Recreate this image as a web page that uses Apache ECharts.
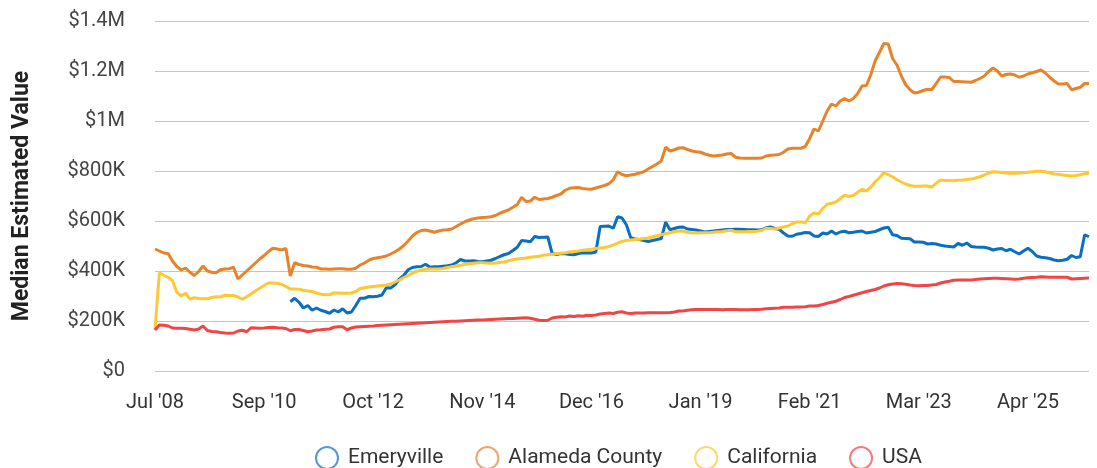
<!DOCTYPE html>
<html>
<head>
<meta charset="utf-8">
<script src="https://cdn.jsdelivr.net/npm/echarts@6/dist/echarts.min.js"></script>
<style>
html,body{margin:0;padding:0;background:#fff;}
#chart{width:1097px;height:468px;}
</style>
</head>
<body>
<div id="chart"></div>
<script>
// Month categories: Jul 2008, then monthly from Sep 2008
const firstMonth = "Jul '08";
const monthNames = ['Jan','Feb','Mar','Apr','May','Jun','Jul','Aug','Sep','Oct','Nov','Dec'];
const pointCount = 215;
const categories = [firstMonth];
for (let i = 1; i < pointCount; i++) {
  const m = 8 + (i - 1); // Sep 2008 = month index 8 of 2008
  const y = 2008 + Math.floor(m / 12);
  categories.push(monthNames[m % 12] + " '" + String(y % 100).padStart(2, '0'));
}

const seriesNames = ['Emeryville', 'Alameda County', 'California', 'USA'];

// values in thousands of dollars
const emeryville = Array(31).fill(null).concat([
  277,291,275,252,262,243,252,243,238,
  231,244,236,249,232,236,262,291,291,298,
  297,299,304,333,332,345,368,382,405,414,
  417,418,427,415,417,417,419,421,424,433,
  446,440,440,441,438,437,440,443,450,458,
  465,470,482,495,522,520,517,538,534,535,
  536,470,466,470,469,466,465,470,473,472,
  472,476,578,579,580,571,617,612,585,533,
  528,526,522,518,522,526,530,595,565,570,
  575,576,568,566,564,560,556,558,560,562,
  564,566,566,567,567,566,565,565,564,565,
  573,576,570,567,552,540,539,547,550,554,
  553,540,538,552,548,560,548,556,559,553,
  555,558,560,552,555,558,565,572,575,545,
  542,531,530,529,516,516,515,508,510,508,
  503,500,498,496,510,503,512,498,496,495,
  495,491,484,488,490,481,487,477,468,480,
  491,478,460,455,453,450,444,441,443,447,
  462,454,457,545,537
]);

const alamedaCounty = [
  488,480,472,470,440,418,404,412,395,382,
  398,420,400,395,393,405,408,409,415,368,
  384,400,416,432,448,462,478,491,488,484,
  490,380,433,426,422,420,416,415,408,408,
  407,408,409,409,407,407,411,424,432,443,
  450,453,456,460,468,477,488,502,520,540,
  554,562,564,560,555,560,564,565,568,578,
  588,597,604,609,612,614,615,617,622,631,
  638,644,655,666,695,678,680,695,686,688,
  690,695,702,708,723,731,733,734,730,728,
  727,732,737,742,749,765,797,786,781,784,
  787,792,797,808,818,828,840,895,880,885,
  892,893,886,880,877,875,868,863,860,862,
  864,868,870,855,852,851,851,851,851,852,
  860,863,864,866,875,888,891,891,891,898,
  930,968,960,1000,1040,1068,1060,1080,1090,1080,
  1090,1110,1140,1142,1185,1240,1275,1310,1308,1250,
  1224,1180,1145,1125,1112,1115,1122,1127,1126,1150,
  1176,1176,1174,1158,1158,1157,1156,1155,1162,1170,
  1180,1198,1212,1200,1180,1186,1188,1184,1175,1180,
  1188,1193,1198,1204,1192,1175,1160,1148,1148,1150,
  1125,1130,1135,1150,1150
];

const california = [
  165,393,383,375,362,315,300,311,288,293,
  290,289,289,294,297,296,303,302,302,296,
  287,297,308,320,331,342,352,352,351,347,
  338,328,328,327,323,320,318,312,307,305,
  305,312,312,311,311,312,318,330,333,336,
  338,340,342,344,348,356,364,374,382,392,
  399,404,407,408,408,408,410,414,417,420,
  423,427,429,431,433,433,432,431,432,434,
  436,441,445,448,450,452,455,457,459,463,
  465,467,469,471,473,476,478,480,483,485,
  487,490,492,494,498,504,512,518,522,524,
  526,527,530,532,536,541,545,549,553,557,
  560,560,555,552,552,553,553,553,555,557,
  558,561,563,557,557,557,558,558,559,562,
  571,570,568,572,576,580,589,596,596,593,
  620,632,628,650,667,671,676,690,703,698,
  702,715,727,720,735,757,773,793,785,777,
  765,756,748,742,739,739,740,740,735,752,
  764,762,762,761,763,764,766,768,772,777,
  784,792,797,796,794,792,791,791,792,793,
  795,797,799,800,797,792,788,787,784,782,
  780,782,785,789,791
];

const usa = [
  164,184,183,180,172,171,171,170,167,164,
  168,180,162,158,157,154,152,151,152,160,
  163,157,173,172,171,172,174,175,173,172,
  170,161,166,166,162,157,160,164,165,167,
  168,175,177,177,165,172,176,177,178,179,
  180,182,183,184,185,186,187,188,189,190,
  191,192,193,194,195,196,197,198,199,199,
  200,201,202,203,204,204,205,206,207,208,
  209,210,210,211,212,213,211,207,203,202,
  203,212,215,217,216,220,218,221,219,223,
  222,224,228,230,232,230,235,237,232,230,
  232,232,232,233,233,233,233,233,234,236,
  240,240,243,245,246,246,246,246,246,246,
  245,246,246,246,245,245,245,246,246,247,
  249,250,251,252,255,255,255,256,256,257,
  260,260,262,266,271,275,279,286,294,298,
  303,308,313,318,322,326,332,340,345,348,
  350,349,347,344,342,341,342,342,344,346,
  352,356,359,363,364,364,364,364,366,368,
  369,370,371,371,370,369,368,367,368,371,
  373,374,375,377,376,375,375,375,375,375,
  368,369,370,371,372
];

const yTicks = [0, 200, 400, 600, 800, 1000, 1200, 1400];
const colors = ['#0b6fc1', '#e8832a', '#fcc834', '#ef4545'];
const legendColors = ['rgba(11,111,193,0.7)', 'rgba(232,131,42,0.7)', 'rgba(252,200,52,0.7)', 'rgba(239,69,69,0.7)'];
const values = [emeryville, alamedaCounty, california, usa];

const chart = echarts.init(document.getElementById('chart'), null, {renderer: 'canvas'});
const fontFamily = 'Roboto, "Noto Sans", sans-serif';

chart.setOption({
  animation: false,
  backgroundColor: '#ffffff',
  color: colors,
  grid: {left: 155, right: 8, top: 21, bottom: 97, containLabel: false},
  legend: {
    left: 310,
    top: 441,
    icon: 'circle',
    itemWidth: 32,
    itemHeight: 22,
    itemGap: 32,
    textStyle: {fontFamily: fontFamily, fontSize: 21, color: '#333'},
    data: seriesNames.map((n, i) => ({
      name: n,
      itemStyle: {color: 'transparent', borderColor: legendColors[i], borderWidth: 2}
    }))
  },
  xAxis: {
    type: 'category',
    data: categories,
    boundaryGap: false,
    axisLine: {show: false},
    axisTick: {show: false},
    axisLabel: {
      interval: 24,
      margin: 22,
      fontFamily: fontFamily,
      fontSize: 20,
      color: '#333'
    },
    splitLine: {show: false}
  },
  yAxis: {
    type: 'value',
    min: yTicks[0],
    max: yTicks[yTicks.length - 1],
    interval: 200,
    name: 'Median Estimated Value',
    nameLocation: 'middle',
    nameGap: 121,
    nameRotate: 90,
    nameTextStyle: {fontFamily: fontFamily, fontSize: 23, fontWeight: 'bold', color: '#222'},
    axisLine: {show: false},
    axisTick: {show: false},
    axisLabel: {
      margin: 30,
      fontFamily: fontFamily,
      fontSize: 20,
      color: '#444',
      formatter: function (v) {
        if (v === 0) return '$0';
        if (v >= 1000) return '$' + (v / 1000) + 'M';
        return '$' + v + 'K';
      }
    },
    splitLine: {lineStyle: {color: '#c4c4c4', width: 1}}
  },
  series: seriesNames.map((n, i) => ({
    name: n,
    type: 'line',
    data: values[i],
    showSymbol: false,
    symbol: 'none',
    connectNulls: false,
    lineStyle: {width: 3, color: colors[i]},
    itemStyle: {color: colors[i]}
  }))
});
</script>
</body>
</html>
